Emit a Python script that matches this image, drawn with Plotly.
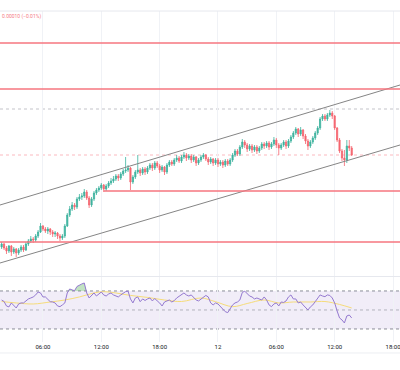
import numpy as np
import pandas as pd
import plotly.graph_objects as go

# ---------------- data ----------------
bar_start = "2024-03-11 01:45"
bar_freq = "15min"

opens = [
    1.08753, 1.08756, 1.08752, 1.08749, 1.08754, 1.08748, 1.08751, 1.08747, 1.08750, 1.08753,
    1.08750, 1.08756, 1.08759, 1.08761, 1.08760, 1.08764, 1.08768, 1.08774, 1.08771, 1.08769,
    1.08771, 1.08768, 1.08766, 1.08767, 1.08764, 1.08762, 1.08764, 1.08774, 1.08785, 1.08791,
    1.08795, 1.08793, 1.08801, 1.08803, 1.08804, 1.08808, 1.08802, 1.08795, 1.08801, 1.08807,
    1.08810, 1.08812, 1.08815, 1.08811, 1.08814, 1.08817, 1.08819, 1.08821, 1.08824, 1.08822,
    1.08826, 1.08829, 1.08830, 1.08832, 1.08818, 1.08823, 1.08828, 1.08830, 1.08827, 1.08831,
    1.08828, 1.08832, 1.08835, 1.08832, 1.08837, 1.08834, 1.08830, 1.08833, 1.08828, 1.08835,
    1.08838, 1.08836, 1.08840, 1.08842, 1.08839, 1.08843, 1.08845, 1.08842, 1.08844, 1.08840,
    1.08843, 1.08837, 1.08840, 1.08843, 1.08845, 1.08841, 1.08838, 1.08841, 1.08837, 1.08840,
    1.08836, 1.08838, 1.08835, 1.08839, 1.08836, 1.08840, 1.08845, 1.08849, 1.08846, 1.08853,
    1.08858, 1.08855, 1.08851, 1.08854, 1.08850, 1.08853, 1.08849, 1.08852, 1.08856, 1.08854,
    1.08857, 1.08853, 1.08856, 1.08860, 1.08855, 1.08852, 1.08855, 1.08858, 1.08854, 1.08859,
    1.08863, 1.08867, 1.08871, 1.08866, 1.08870, 1.08864, 1.08859, 1.08854, 1.08858, 1.08862,
    1.08867, 1.08872, 1.08881, 1.08884, 1.08881, 1.08885, 1.08887, 1.08884, 1.08872, 1.08860,
    1.08849, 1.08842, 1.08840, 1.08854, 1.08852,
]
highs = [
    1.08758, 1.08757, 1.08754, 1.08755, 1.08755, 1.08753, 1.08752, 1.08752, 1.08755, 1.08755,
    1.08758, 1.08761, 1.08764, 1.08763, 1.08766, 1.08770, 1.08777, 1.08775, 1.08773, 1.08773,
    1.08772, 1.08770, 1.08769, 1.08768, 1.08766, 1.08766, 1.08776, 1.08787, 1.08794, 1.08798,
    1.08797, 1.08803, 1.08806, 1.08807, 1.08811, 1.08810, 1.08804, 1.08803, 1.08809, 1.08812,
    1.08814, 1.08817, 1.08816, 1.08816, 1.08819, 1.08822, 1.08824, 1.08826, 1.08826, 1.08828,
    1.08831, 1.08843, 1.08835, 1.08833, 1.08825, 1.08830, 1.08845, 1.08832, 1.08833, 1.08833,
    1.08834, 1.08837, 1.08837, 1.08839, 1.08839, 1.08836, 1.08835, 1.08834, 1.08837, 1.08840,
    1.08840, 1.08842, 1.08845, 1.08844, 1.08845, 1.08848, 1.08847, 1.08846, 1.08846, 1.08845,
    1.08844, 1.08842, 1.08845, 1.08847, 1.08846, 1.08843, 1.08843, 1.08842, 1.08842, 1.08842,
    1.08840, 1.08840, 1.08841, 1.08841, 1.08842, 1.08847, 1.08851, 1.08851, 1.08855, 1.08861,
    1.08860, 1.08857, 1.08856, 1.08856, 1.08855, 1.08855, 1.08854, 1.08858, 1.08858, 1.08859,
    1.08859, 1.08858, 1.08863, 1.08862, 1.08857, 1.08857, 1.08860, 1.08860, 1.08861, 1.08865,
    1.08869, 1.08873, 1.08872, 1.08873, 1.08871, 1.08866, 1.08861, 1.08860, 1.08864, 1.08869,
    1.08874, 1.08883, 1.08886, 1.08886, 1.08887, 1.08890, 1.08889, 1.08885, 1.08873, 1.08862,
    1.08851, 1.08850, 1.08860, 1.08860, 1.08854,
]
lows = [
    1.08751, 1.08750, 1.08746, 1.08747, 1.08744, 1.08746, 1.08743, 1.08745, 1.08748, 1.08748,
    1.08749, 1.08754, 1.08757, 1.08757, 1.08758, 1.08762, 1.08767, 1.08769, 1.08767, 1.08766,
    1.08765, 1.08763, 1.08763, 1.08761, 1.08759, 1.08760, 1.08762, 1.08773, 1.08783, 1.08789,
    1.08790, 1.08791, 1.08799, 1.08800, 1.08802, 1.08800, 1.08792, 1.08793, 1.08799, 1.08805,
    1.08808, 1.08810, 1.08808, 1.08809, 1.08812, 1.08815, 1.08817, 1.08819, 1.08819, 1.08820,
    1.08824, 1.08827, 1.08828, 1.08810, 1.08816, 1.08821, 1.08826, 1.08824, 1.08825, 1.08825,
    1.08826, 1.08830, 1.08829, 1.08830, 1.08832, 1.08827, 1.08828, 1.08825, 1.08826, 1.08833,
    1.08834, 1.08834, 1.08838, 1.08837, 1.08837, 1.08841, 1.08839, 1.08840, 1.08837, 1.08838,
    1.08834, 1.08835, 1.08838, 1.08841, 1.08839, 1.08835, 1.08836, 1.08834, 1.08835, 1.08833,
    1.08834, 1.08832, 1.08833, 1.08834, 1.08834, 1.08838, 1.08843, 1.08844, 1.08844, 1.08851,
    1.08852, 1.08848, 1.08849, 1.08847, 1.08848, 1.08846, 1.08847, 1.08850, 1.08851, 1.08852,
    1.08850, 1.08851, 1.08854, 1.08852, 1.08845, 1.08850, 1.08853, 1.08851, 1.08852, 1.08857,
    1.08861, 1.08865, 1.08863, 1.08864, 1.08861, 1.08856, 1.08850, 1.08852, 1.08856, 1.08860,
    1.08865, 1.08870, 1.08879, 1.08879, 1.08879, 1.08883, 1.08881, 1.08870, 1.08858, 1.08847,
    1.08839, 1.08834, 1.08837, 1.08849, 1.08844,
]
closes = [
    1.08756, 1.08752, 1.08749, 1.08754, 1.08748, 1.08751, 1.08747, 1.08750, 1.08753, 1.08750,
    1.08756, 1.08759, 1.08761, 1.08760, 1.08764, 1.08768, 1.08774, 1.08771, 1.08769, 1.08771,
    1.08768, 1.08766, 1.08767, 1.08764, 1.08762, 1.08764, 1.08774, 1.08785, 1.08791, 1.08795,
    1.08793, 1.08801, 1.08803, 1.08804, 1.08808, 1.08802, 1.08795, 1.08801, 1.08807, 1.08810,
    1.08812, 1.08815, 1.08811, 1.08814, 1.08817, 1.08819, 1.08821, 1.08824, 1.08822, 1.08826,
    1.08829, 1.08830, 1.08832, 1.08818, 1.08823, 1.08828, 1.08830, 1.08827, 1.08831, 1.08828,
    1.08832, 1.08835, 1.08832, 1.08837, 1.08834, 1.08830, 1.08833, 1.08828, 1.08835, 1.08838,
    1.08836, 1.08840, 1.08842, 1.08839, 1.08843, 1.08845, 1.08842, 1.08844, 1.08840, 1.08843,
    1.08837, 1.08840, 1.08843, 1.08845, 1.08841, 1.08838, 1.08841, 1.08837, 1.08840, 1.08836,
    1.08838, 1.08835, 1.08839, 1.08836, 1.08840, 1.08845, 1.08849, 1.08846, 1.08853, 1.08858,
    1.08855, 1.08851, 1.08854, 1.08850, 1.08853, 1.08849, 1.08852, 1.08856, 1.08854, 1.08857,
    1.08853, 1.08856, 1.08860, 1.08855, 1.08852, 1.08855, 1.08858, 1.08854, 1.08859, 1.08863,
    1.08867, 1.08871, 1.08866, 1.08870, 1.08864, 1.08859, 1.08854, 1.08858, 1.08862, 1.08867,
    1.08872, 1.08881, 1.08884, 1.08881, 1.08885, 1.08887, 1.08884, 1.08872, 1.08860, 1.08849,
    1.08842, 1.08840, 1.08854, 1.08852, 1.08845,
]
rsi = [
    60.5, 58.9, 54.2, 53.2, 57.4, 54.2, 52.1, 56.3, 57.4, 57.4,
    59.5, 61.6, 62.6, 63.7, 65.8, 68.9, 67.9, 63.7, 63.7, 61.6,
    58.7, 58.4, 57.4, 54.2, 53.5, 55.3, 57.4, 67.9, 72.1, 71.1,
    70.3, 74.7, 76.3, 77.4, 78.4, 67.9, 62.6, 65.8, 67.9, 64.7,
    66.8, 68.9, 65.8, 64.7, 66.8, 67.9, 65.8, 64.7, 63.7, 65.8,
    67.9, 69.3, 69.8, 61.6, 57.4, 62.6, 63.7, 58.7, 61.6, 60.0,
    61.6, 62.6, 59.5, 62.1, 59.5, 57.4, 54.2, 58.4, 59.5, 60.5,
    58.4, 59.8, 62.6, 64.7, 65.8, 67.9, 65.8, 64.7, 65.8, 62.6,
    60.5, 59.5, 61.6, 64.0, 65.3, 63.7, 57.4, 55.3, 57.4, 56.3,
    53.5, 51.1, 48.2, 47.2, 52.1, 55.3, 57.4, 58.4, 60.5, 68.4,
    69.8, 66.8, 64.7, 63.7, 61.6, 62.6, 61.6, 60.5, 63.7, 60.5,
    55.3, 53.5, 56.3, 57.4, 54.2, 58.4, 57.9, 59.5, 63.7, 65.8,
    61.6, 61.6, 57.4, 58.4, 55.3, 52.1, 50.0, 53.2, 55.3, 58.8,
    62.6, 65.8, 64.7, 64.0, 65.8, 65.3, 62.6, 57.4, 48.9, 41.6,
    39.5, 36.3, 43.7, 44.7, 41.6,
]
rsi_ma_bars = [0, 6, 13, 20, 26, 32, 38, 42, 47, 53, 60, 67, 74, 82, 88, 95, 101, 108, 114, 120, 127, 133, 139, 144]
rsi_ma = [58.9, 57.4, 56.3, 58.4, 60.5, 63.7, 67.9, 69.3, 67.9, 65.3, 63.2, 60.5, 58.9, 62.6, 58.7, 53.5,
          56.8, 60.5, 57.4, 58.4, 58.4, 58.9, 55.8, 52.1]

level_prices = [1.08957, 1.08911, 1.08809, 1.08758]
level_starts = ["2024-03-11 01:35", "2024-03-11 01:35", "2024-03-11 12:15", "2024-03-11 01:35"]
channel_times = ["2024-03-11 01:35", "2024-03-12 18:43"]
channel_upper = [1.08795, 1.08915]
channel_lower = [1.08737, 1.08855]
last_price = 1.08845
ref_price = 1.08891
rsi_levels = [70, 50, 30]

x_range = ["2024-03-11 01:35", "2024-03-12 18:43"]
tick_vals = ["2024-03-11 06:00", "2024-03-11 12:00", "2024-03-11 18:00", "2024-03-12 00:00",
             "2024-03-12 06:00", "2024-03-12 12:00", "2024-03-12 18:00"]
tick_text = ["06:00", "12:00", "18:00", "12", "06:00", "12:00", "18:00"]
header_text = "0.00010 (\u22120.01%)"

# ---------------- figure ----------------
times = pd.date_range(bar_start, periods=len(closes), freq=bar_freq)
ma_times = times[rsi_ma_bars]

UP = "#3db39e"
DOWN = "#f5646f"
LEVEL = "#f6767f"
GRID = "#f0f2f6"

fig = go.Figure()

fig.add_trace(go.Candlestick(
    x=times, open=opens, high=highs, low=lows, close=closes,
    increasing=dict(line=dict(color=UP, width=0.8), fillcolor=UP),
    decreasing=dict(line=dict(color=DOWN, width=0.8), fillcolor=DOWN),
    whiskerwidth=0, xaxis="x", yaxis="y", showlegend=False, hoverinfo="skip",
))

for ch in (channel_upper, channel_lower):
    fig.add_trace(go.Scatter(x=channel_times, y=ch, mode="lines",
                             line=dict(color="#858585", width=1),
                             xaxis="x", yaxis="y", showlegend=False, hoverinfo="skip"))

# RSI overbought fill
rsi_arr = np.array(rsi)
fig.add_trace(go.Scatter(x=times, y=[rsi_levels[0]] * len(rsi), mode="lines",
                         line=dict(width=0, color="rgba(0,0,0,0)"),
                         xaxis="x2", yaxis="y2", showlegend=False, hoverinfo="skip"))
fig.add_trace(go.Scatter(x=times, y=np.maximum(rsi_arr, rsi_levels[0]), mode="lines",
                         line=dict(width=0, color="rgba(0,0,0,0)"), fill="tonexty",
                         fillcolor="rgba(76,175,80,0.35)",
                         xaxis="x2", yaxis="y2", showlegend=False, hoverinfo="skip"))
fig.add_trace(go.Scatter(x=ma_times, y=rsi_ma, mode="lines", line_shape="spline",
                         line=dict(color="#f6dc7a", width=1),
                         xaxis="x2", yaxis="y2", showlegend=False, hoverinfo="skip"))
fig.add_trace(go.Scatter(x=times, y=rsi, mode="lines",
                         line=dict(color="#9479d0", width=1),
                         xaxis="x2", yaxis="y2", showlegend=False, hoverinfo="skip"))

shapes = []
for p, s in zip(level_prices, level_starts):
    shapes.append(dict(type="line", xref="x", yref="y", x0=s, x1=x_range[1], y0=p, y1=p,
                       line=dict(color=LEVEL, width=1.5), layer="above"))
shapes.append(dict(type="line", xref="paper", yref="y", x0=0, x1=1, y0=last_price, y1=last_price,
                   line=dict(color="rgba(242,54,69,0.35)", width=1, dash="dot"), layer="below"))
shapes.append(dict(type="line", xref="paper", yref="y", x0=0, x1=1, y0=ref_price, y1=ref_price,
                   line=dict(color="rgba(120,123,134,0.45)", width=1, dash="dot"), layer="below"))
shapes.append(dict(type="rect", xref="paper", yref="y2", x0=0, x1=1, y0=rsi_levels[2], y1=rsi_levels[0],
                   fillcolor="rgba(126,87,194,0.11)", line=dict(width=0), layer="below"))
for lv, col in zip(rsi_levels, ["rgba(120,123,134,0.85)", "rgba(120,123,134,0.5)", "rgba(120,123,134,0.85)"]):
    shapes.append(dict(type="line", xref="paper", yref="y2", x0=0, x1=1, y0=lv, y1=lv,
                       line=dict(color=col, width=1, dash="dot"), layer="below"))
# pane borders
for yy in (1.0, 0.1979):
    shapes.append(dict(type="line", xref="paper", yref="paper", x0=0, x1=1, y0=yy, y1=yy,
                       line=dict(color="#e6e8ee", width=1)))
shapes.append(dict(type="line", xref="paper", yref="paper", x0=0, x1=1, y0=-0.0332, y1=-0.0332,
                   line=dict(color="#eceef2", width=1)))

axis_common = dict(type="date", range=x_range, tickvals=tick_vals, ticktext=tick_text,
                   showgrid=True, gridcolor=GRID, gridwidth=1, zeroline=False, showline=False,
                   ticks="", automargin=False)

fig.update_layout(
    width=400, height=370,
    margin=dict(l=0, r=0, t=11, b=28),
    paper_bgcolor="white", plot_bgcolor="white",
    font=dict(family="Roboto", size=6, color="#131722"),
    showlegend=False,
    xaxis=dict(**axis_common, anchor="y", showticklabels=False, rangeslider=dict(visible=False)),
    xaxis2=dict(**axis_common, anchor="y2", matches="x", showticklabels=True,
                ticklabeloverflow="allow", tickfont=dict(size=6, color="#131722")),
    yaxis=dict(domain=[0.1994, 1], range=[1.08724, 1.08989], showgrid=False, zeroline=False,
               showticklabels=False, fixedrange=True),
    yaxis2=dict(domain=[0, 0.1964], range=[16.3, 84.7], showgrid=False, zeroline=False,
                showticklabels=False, fixedrange=True),
    shapes=shapes,
    annotations=[dict(text=header_text, xref="paper", yref="paper", x=0, y=0.982,
                      xanchor="left", yanchor="middle", showarrow=False,
                      font=dict(size=5, color="#f57b86", family="Roboto"))],
)

fig.write_html("out.html", config={"displayModeBar": False},
               post_script="document.body.style.margin='0px';document.body.style.padding='0px';")
